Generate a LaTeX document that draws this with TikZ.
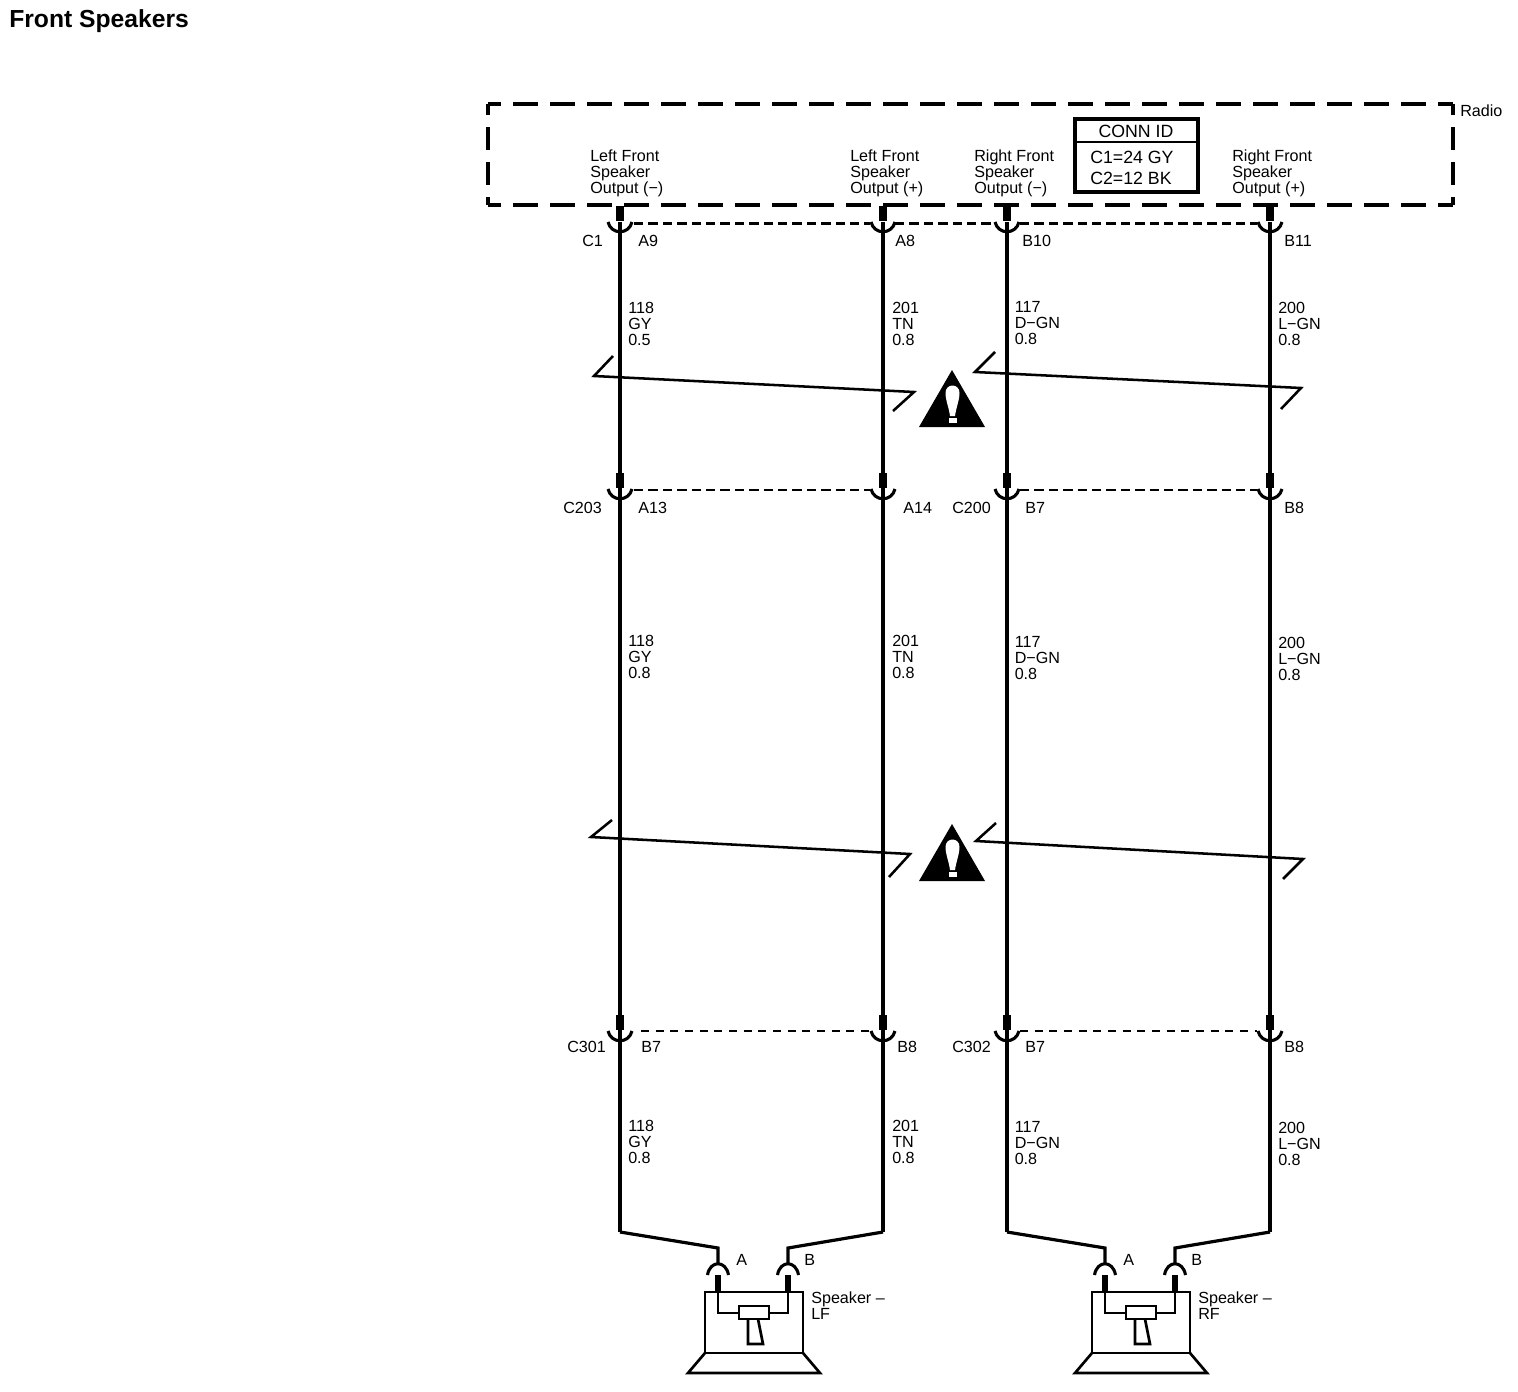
\documentclass[tikz,border=0pt]{standalone}
\usepackage{fontspec}
\setmainfont{Liberation Sans}
\tikzset{
  wire/.style={line width=2.4pt,line join=miter},
  stub/.style={line width=5.5pt},
  cupline/.style={line width=2.3pt},
  dashlink/.style={line width=2pt,dash pattern=on 7pt off 3.8pt},
  dashlinkb/.style={line width=2pt,dash pattern=on 6pt off 5pt},
  lab/.style={anchor=west,inner sep=0pt,align=left,font=\fontsize{12.1}{12}\selectfont},
  idlab/.style={anchor=west,inner sep=0pt,font=\fontsize{13.3}{14}\selectfont},
  brk/.style={line width=1.9pt,line join=miter},
  hdash/.style={line width=2.7pt,dash pattern=on 18.75pt off 9pt,dash phase=9pt},
  vdash/.style={line width=2.7pt,dash pattern=on 17.25pt off 9pt,dash phase=9pt},
  spk/.style={line width=2pt,line join=miter}
}
\newcommand{\jackdown}[2]{%
  \draw[stub] (#1,#2-16) -- (#1,#2-1);
  \draw[cupline] (#1-12,#2) .. controls (#1-9,#2+13) and (#1+9,#2+13) .. (#1+12,#2);
}
\newcommand{\jackup}[2]{%
  \draw[cupline] (#1-10.5,#2+12) .. controls (#1-8,#2-3) and (#1+8,#2-3) .. (#1+10.5,#2+12);
  \draw[line width=4.2pt] (#1,#2+12) -- (#1,#2+29);
}
\newcommand{\warnsign}[1]{%
  \begin{scope}[shift={(0,#1)}]
    \fill[black] (952,370) -- (985,427) -- (919,427) -- cycle;
    \fill[white] (945.5,393) .. controls (945.5,383) and (959.5,383) .. (959.5,393)
      .. controls (959.5,400) and (956,408) .. (955,416) -- (950,416)
      .. controls (949,408) and (945.5,400) .. (945.5,393) -- cycle;
    \fill[white] (948.5,418) rectangle (956.5,423);
  \end{scope}
}
\newcommand{\speaker}[1]{%
  \begin{scope}[shift={(#1,0)}]
    \draw[spk] (705,1353) -- (705,1292) -- (803,1292) -- (803,1353) -- cycle;
    \draw[spk] (705,1353) -- (688,1373) -- (820,1373) -- (803,1353);
    \draw[spk] (718,1290) -- (718,1313) -- (739,1313);
    \draw[spk] (788,1290) -- (788,1313) -- (769,1313);
    \draw[line width=2.2pt] (739,1306) rectangle (769,1319);
    \draw[spk] (748,1319) -- (748,1344) -- (763,1344) -- (758,1319);
  \end{scope}
}
\begin{document}
\begin{tikzpicture}[x=0.75pt,y=-0.75pt]
\useasboundingbox (0,0) rectangle (1518,1392);

\node[anchor=west,inner sep=0pt,font=\fontsize{18.5}{20}\selectfont\bfseries] (title) at (9,21.5) {Front Speakers};

% Radio housing
\coordinate (rTL) at (488,104); \coordinate (rTR) at (1453,104);
\coordinate (rBL) at (488,205); \coordinate (rBR) at (1453,205);
\draw[hdash] (rTL) -- (rTR);
\draw[hdash] (rBL) -- (rBR);
\draw[vdash] (rTL) -- (rBL);
\draw[vdash] (rTR) -- (rBR);
\node[lab] (radio) at (1460,110.5) {Radio};

\node[lab] (p1) at (590,173) {Left Front\\Speaker\\Output (−)};
\node[lab] (p2) at (850,173) {Left Front\\Speaker\\Output (+)};
\node[lab] (p3) at (974,173) {Right Front\\Speaker\\Output (−)};
\node[lab] (p4) at (1232,173) {Right Front\\Speaker\\Output (+)};

% Connector ID
\draw[line width=3pt] (1075,118.5) rectangle (1198,191.5);
\draw[line width=1.6pt] (1075,142) -- (1198,142);
\node[idlab,anchor=center] (cid) at (1136,131) {CONN ID};
\node[idlab] (c1id) at (1090,157.5) {C1=24 GY};
\node[idlab] (c2id) at (1090,178.5) {C2=12 BK};

% Wire ends
\foreach \n/\x in {a/620,b/883,c/1007,d/1270}{
  \coordinate (\n1) at (\x,222);
  \coordinate (\n2) at (\x,489);
  \coordinate (\n3) at (\x,1031);
  \coordinate (\n4) at (\x,1232);
}
\coordinate (spA) at (718,1248); \coordinate (spAe) at (718,1263);
\coordinate (spB) at (788,1248); \coordinate (spBe) at (788,1263);
\coordinate (srA) at (1105,1248); \coordinate (srAe) at (1105,1263);
\coordinate (srB) at (1175,1248); \coordinate (srBe) at (1175,1263);

\foreach \n in {a,b,c,d}{
  \draw[wire] (\n1) -- (\n2);
  \draw[wire] (\n2) -- (\n3);
  \draw[wire] (\n3) -- (\n4);
}
\draw[wire] (a4) -- (spA) -- (spAe);
\draw[wire] (b4) -- (spB) -- (spBe);
\draw[wire] (c4) -- (srA) -- (srAe);
\draw[wire] (d4) -- (srB) -- (srBe);

% Jacks
\foreach \x in {620,883,1007,1270}{
  \jackdown{\x}{222}
  \jackdown{\x}{489}
  \jackdown{\x}{1031}
}
\jackup{718}{1263}\jackup{788}{1263}\jackup{1105}{1263}\jackup{1175}{1263}

% Dashed connector shells
\draw[dashlink] (634,223.5) -- (870,223.5);
\draw[dashlink] (895,223.5) -- (994,223.5);
\draw[dashlink] (1020,223.5) -- (1257,223.5);
\draw[dashlink] (634,490) -- (870,490);
\draw[dashlink] (1020,490) -- (1257,490);
\draw[dashlinkb] (641,1031) -- (870,1031);
\draw[dashlinkb] (1020,1031) -- (1257,1031);

% Connector labels
\node[lab] (l01) at (582,241) {C1};
\node[lab] (l02) at (638,241) {A9};
\node[lab] (l03) at (895,241) {A8};
\node[lab] (l04) at (1022,241) {B10};
\node[lab] (l05) at (1284,241) {B11};
\node[lab] (l06) at (563,508) {C203};
\node[lab] (l07) at (638,508) {A13};
\node[lab] (l08) at (903,508) {A14};
\node[lab] (l09) at (952,508) {C200};
\node[lab] (l10) at (1025,508) {B7};
\node[lab] (l11) at (1284,508) {B8};
\node[lab] (l12) at (567,1047) {C301};
\node[lab] (l13) at (641,1047) {B7};
\node[lab] (l14) at (897,1047) {B8};
\node[lab] (l15) at (952,1047) {C302};
\node[lab] (l16) at (1025,1047) {B7};
\node[lab] (l17) at (1284,1047) {B8};

% Wire labels
\node[lab] (w01) at (628,323.5) {118\\GY\\0.5};
\node[lab] (w02) at (892,323.5) {201\\TN\\0.8};
\node[lab] (w03) at (1014.5,323.5) {117\\D−GN\\0.8};
\node[lab] (w04) at (1278,323.5) {200\\L−GN\\0.8};
\node[lab] (w05) at (628,656.5) {118\\GY\\0.8};
\node[lab] (w06) at (892,656.5) {201\\TN\\0.8};
\node[lab] (w07) at (1014.5,658.5) {117\\D−GN\\0.8};
\node[lab] (w08) at (1278,658.5) {200\\L−GN\\0.8};
\node[lab] (w09) at (628,1141.5) {118\\GY\\0.8};
\node[lab] (w10) at (892,1141.5) {201\\TN\\0.8};
\node[lab] (w11) at (1014.5,1143.5) {117\\D−GN\\0.8};
\node[lab] (w12) at (1278,1143.5) {200\\L−GN\\0.8};

% Break marks
\draw[brk] (613,356) -- (594,376) -- (914,392) -- (893,411);
\draw[brk] (995,352) -- (975,372) -- (1301,388) -- (1281,409);
\draw[brk] (612,820) -- (591,837) -- (910,854) -- (889,877);
\draw[brk] (996,823) -- (976,841) -- (1303,859) -- (1283,879);

\warnsign{0}
\warnsign{454}

% Speakers
\speaker{0}
\speaker{387}
\node[lab] (sa) at (736,1260) {A};
\node[lab] (sb) at (804,1260) {B};
\node[lab] (sl) at (811,1306) {Speaker –\\LF};
\node[lab] (ra) at (1123,1260) {A};
\node[lab] (rb) at (1191,1260) {B};
\node[lab] (sr) at (1198,1306) {Speaker –\\RF};
\end{tikzpicture}
\end{document}
